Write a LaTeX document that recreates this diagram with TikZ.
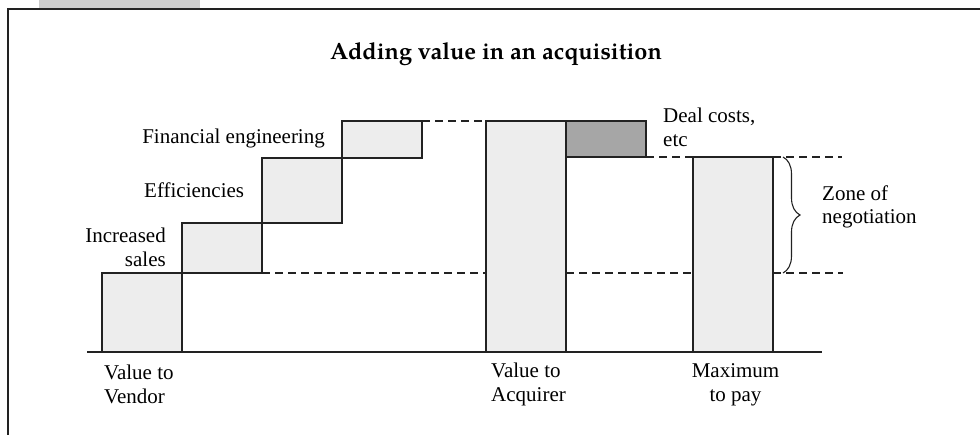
\documentclass[tikz,border=0pt]{standalone}
\usepackage{fontspec}
\setmainfont{Liberation Serif}
\newfontfamily\titlefont{texgyrepagella-bold.otf}
\usetikzlibrary{decorations.pathreplacing}
\definecolor{barfill}{HTML}{EDEDED}
\definecolor{costfill}{HTML}{A6A6A6}
\definecolor{tabfill}{HTML}{CCCCCC}
\definecolor{ink}{HTML}{222222}
\begin{document}
\begin{tikzpicture}[x=1pt,y=-1pt,
  frameline/.style={line width=2pt, draw=ink},
  bar/.style={draw=ink, line width=1.3pt, fill=barfill, inner sep=0pt, outer sep=0pt, minimum width=80pt},
  costbar/.style={bar, fill=costfill},
  lbl/.style={font=\fontsize{21}{24}\selectfont, inner sep=0pt, text=black},
  guide/.style={draw=ink, line width=1.1pt, dash pattern=on 8pt off 5pt},
  axisline/.style={draw=ink, line width=1.6pt},
  bracestyle/.style={draw=ink, line width=1.1pt, decorate, decoration={brace, amplitude=17pt, aspect=0.5}}]
\useasboundingbox (0,0) rectangle (980,435);

% header tab and frame
\fill[tabfill] (39,0) rectangle (200,8);
\draw[frameline] (8,435) -- (8,9.5) -- (980,9.5);

% title
\node[inner sep=0pt, anchor=base, font=\titlefont\fontsize{23.5}{28}\selectfont] (title) at (496,60) {Adding value in an acquisition};

% bars
\node[bar, minimum height=79pt] (vendor) at (142,312.5) {};
\node[bar, minimum height=50pt] (sales) at (222,248) {};
\node[bar, minimum height=65pt] (eff) at (302,190.5) {};
\node[bar, minimum height=37pt] (fin) at (382,139.5) {};
\node[bar, minimum height=231pt] (acq) at (526,236.5) {};
\node[costbar, minimum height=36pt] (deal) at (606,139) {};
\node[bar, minimum height=195pt] (maxpay) at (733,254.5) {};

% baseline axis
\coordinate (axisL) at (87,352);
\coordinate (axisR) at (822,352);
\draw[axisline] (axisL) -- (axisR);

% dashed guide lines
\coordinate (topR) at (842,157);
\coordinate (lowR) at (843,273);
\draw[guide] (fin.north east) -- (acq.north west);
\draw[guide] (sales.south east) -- (sales.south east -| acq.west);
\draw[guide] (sales.south east -| acq.east) -- (sales.south east -| maxpay.west);
\draw[guide] (deal.south east) -- (maxpay.north west);
\draw[guide] (maxpay.north east) -- (topR);
\draw[guide] (sales.south east -| maxpay.east) -- (lowR);

% brace for the negotiation zone
\coordinate (braceT) at (783,157);
\coordinate (braceB) at (783,273);
\draw[bracestyle] (braceT) -- (braceB);

% labels
\node[lbl, anchor=base east] (lfin) at (325,144) {Financial engineering};
\node[lbl, anchor=base west] (leff) at (144,198) {Efficiencies};
\node[lbl, anchor=base east] (lsales1) at (166,243) {Increased};
\node[lbl, anchor=base east] (lsales2) at (166,267) {sales};
\node[lbl, anchor=base west] (ldeal1) at (663,123) {Deal costs,};
\node[lbl, anchor=base west] (ldeal2) at (663,147) {etc};
\node[lbl, anchor=base west] (lzone1) at (822,201) {Zone of};
\node[lbl, anchor=base west] (lzone2) at (822,224) {negotiation};
\node[lbl, anchor=base west] (lvend1) at (104,380) {Value to};
\node[lbl, anchor=base west] (lvend2) at (104,404) {Vendor};
\node[lbl, anchor=base west] (lacq1) at (491,378) {Value to};
\node[lbl, anchor=base west] (lacq2) at (491,402) {Acquirer};
\node[lbl, anchor=base] (lmax1) at (735.5,378) {Maximum};
\node[lbl, anchor=base] (lmax2) at (735.5,402) {to pay};
\end{tikzpicture}
\end{document}
